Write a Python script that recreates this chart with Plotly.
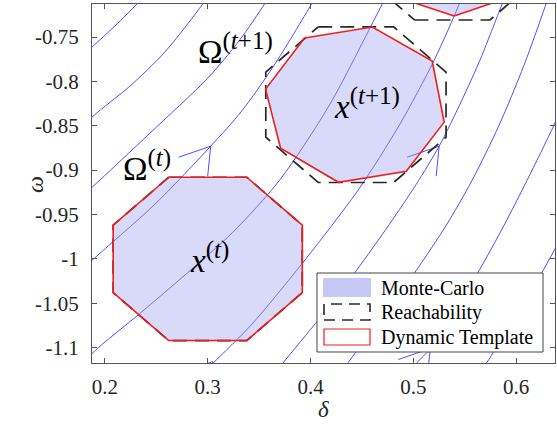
import plotly.graph_objects as go

# ---- streamlines of the swing dynamics (delta, omega) ----
stream_delta = [
    [0.1563, 0.1874, 0.2097, 0.2311, 0.2456],
    [0.1563, 0.1874, 0.2243, 0.2583, 0.2951, 0.3068],
    [0.1563, 0.1874, 0.2437, 0.3000, 0.3311, 0.3553, 0.3650],
    [0.1563, 0.1874, 0.2485, 0.3029, 0.3330, 0.3641, 0.4010, 0.4107],
    [0.1563, 0.1874, 0.2340, 0.2796, 0.3243, 0.3699, 0.4184, 0.4699, 0.4786],
    [0.2825, 0.3049, 0.3427, 0.3786, 0.4126, 0.4476, 0.4864, 0.5204, 0.5447, 0.5505],
    [0.3524, 0.3728, 0.4087, 0.4447, 0.4767, 0.5029, 0.5252, 0.5427, 0.5641, 0.5864, 0.5922],
    [0.4165, 0.4359, 0.4699, 0.5029, 0.5320, 0.5573, 0.5835, 0.6078, 0.6291, 0.6340],
    [0.4864, 0.5029, 0.5165, 0.5398, 0.5641, 0.5883, 0.6107, 0.6369, 0.6515],
    [0.5544, 0.5709, 0.5981, 0.6252, 0.6466],
]
stream_omega = [
    [-0.7940, -0.7613, -0.7376, -0.7128, -0.6947],
    [-0.8775, -0.8403, -0.8053, -0.7669, -0.7128, -0.6924],
    [-0.9509, -0.9193, -0.8584, -0.7963, -0.7534, -0.7128, -0.6947],
    [-1.0356, -1.0017, -0.9385, -0.8730, -0.8335, -0.7827, -0.7128, -0.6924],
    [-1.1484, -1.1067, -1.0615, -1.0164, -0.9701, -0.9114, -0.8267, -0.7128, -0.6947],
    [-1.1428, -1.1179, -1.0739, -1.0243, -0.9746, -0.9204, -0.8493, -0.7760, -0.7128, -0.6947],
    [-1.1484, -1.1179, -1.0672, -1.0130, -0.9611, -0.9159, -0.8730, -0.8324, -0.7782, -0.7128, -0.6947],
    [-1.1484, -1.1179, -1.0649, -1.0130, -0.9622, -0.9114, -0.8493, -0.7816, -0.7128, -0.6947],
    [-1.1428, -1.1179, -1.1010, -1.0581, -1.0130, -0.9622, -0.9114, -0.8493, -0.8098],
    [-1.1428, -1.1179, -1.0672, -1.0153, -0.9701],
]

# arrowhead tips placed on the streamlines
arrow_delta = [0.3029, 0.5252, 0.5165, 0.3049]
arrow_omega = [-0.8730, -0.8730, -1.1010, -1.1157]

# ---- sets at step t ----
mc_t_delta = [0.262, 0.338, 0.392, 0.392, 0.338, 0.262, 0.208, 0.208]
mc_t_omega = [-0.908, -0.908, -0.962, -1.038, -1.092, -1.092, -1.038, -0.962]
reach_t_delta = [0.262, 0.338, 0.392, 0.392, 0.338, 0.262, 0.208, 0.208]
reach_t_omega = [-0.908, -0.908, -0.962, -1.038, -1.092, -1.092, -1.038, -0.962]
dyn_t_delta = [0.262, 0.338, 0.392, 0.392, 0.338, 0.262, 0.208, 0.208]
dyn_t_omega = [-0.908, -0.908, -0.962, -1.038, -1.092, -1.092, -1.038, -0.962]

# ---- sets at step t+1 ----
reach_t1_delta = [0.4075, 0.4809, 0.5319, 0.5319, 0.4809, 0.4075, 0.3565, 0.3565]
reach_t1_omega = [-0.7385, -0.7385, -0.7895, -0.8629, -0.9139, -0.9139, -0.8629, -0.7895]
dyn_t1_delta = [0.3942, 0.4602, 0.5184, 0.5301, 0.4932, 0.4272, 0.3709, 0.3563]
dyn_t1_omega = [-0.7511, -0.7387, -0.7771, -0.8459, -0.9012, -0.9137, -0.8753, -0.8087]

# ---- sets at step t+2 ----
reach_t2_delta = [0.5012, 0.5746, 0.6256, 0.6256, 0.5746, 0.5012, 0.4502, 0.4502]
reach_t2_omega = [-0.7308, -0.7308, -0.6798, -0.6064, -0.5554, -0.5554, -0.6064, -0.6798]
dyn_t2_delta = [0.5398, 0.6029, 0.6417, 0.6272, 0.5544, 0.4864, 0.4573, 0.4718]
dyn_t2_omega = [-0.7263, -0.7015, -0.6108, -0.5292, -0.4836, -0.5170, -0.5962, -0.7003]

# axes
x_range = [0.1874, 0.6379]
y_range = [-1.1173, -0.7128]
x_ticks = [0.2, 0.3, 0.4, 0.5, 0.6]
x_ticktext = ["0.2", "0.3", "0.4", "0.5", "0.6"]
y_ticks = [-0.75, -0.8, -0.85, -0.9, -0.95, -1.0, -1.05, -1.1]
y_ticktext = ["-0.75", "-0.8", "-0.85", "-0.9", "-0.95", "-1", "-1.05", "-1.1"]

W, H = 557, 428
M = dict(l=92, r=2, t=4, b=65)
plot_w = W - M["l"] - M["r"]
plot_h = H - M["t"] - M["b"]
sx = plot_w / (x_range[1] - x_range[0])   # px per unit delta
sy = plot_h / (y_range[1] - y_range[0])   # px per unit omega

BLUE = "rgb(80,80,255)"
RED = "rgb(240,30,30)"
DASH = "rgb(40,40,40)"
MC_FILL = "rgba(160,160,240,0.40)"
SERIF = "Liberation Serif, Times New Roman, serif"

fig = go.Figure()

for xs, ys in zip(stream_delta, stream_omega):
    fig.add_trace(go.Scatter(x=xs, y=ys, mode="lines", line=dict(color=BLUE, width=1, shape="spline", smoothing=0.8),
                             hoverinfo="skip", showlegend=False))

# arrowheads: two barbs from each tip (barb offsets in screen pixels)
barbs = [(-32, 11), (-3, 30)]
for tx, ty in zip(arrow_delta, arrow_omega):
    bx, by = [], []
    for dx, dy in barbs:
        bx += [tx, tx + dx / sx, None]
        by += [ty, ty - dy / sy, None]
    fig.add_trace(go.Scatter(x=bx, y=by, mode="lines", line=dict(color=BLUE, width=1),
                             hoverinfo="skip", showlegend=False))


def closed(v):
    return list(v) + [v[0]]


# Monte-Carlo samples (filled hulls)
for dx_, dy_ in [(mc_t_delta, mc_t_omega), (dyn_t1_delta, dyn_t1_omega), (dyn_t2_delta, dyn_t2_omega)]:
    fig.add_trace(go.Scatter(x=closed(dx_), y=closed(dy_), mode="lines", fill="toself", fillcolor=MC_FILL,
                             line=dict(width=0), hoverinfo="skip", showlegend=False))

# reachability over-approximation
for dx_, dy_ in [(reach_t_delta, reach_t_omega), (reach_t1_delta, reach_t1_omega), (reach_t2_delta, reach_t2_omega)]:
    fig.add_trace(go.Scatter(x=closed(dx_), y=closed(dy_), mode="lines",
                             line=dict(color=DASH, width=1.7, dash="14px,8px"), hoverinfo="skip", showlegend=False))

# dynamic template
for dx_, dy_ in [(dyn_t_delta, dyn_t_omega), (dyn_t1_delta, dyn_t1_omega), (dyn_t2_delta, dyn_t2_omega)]:
    fig.add_trace(go.Scatter(x=closed(dx_), y=closed(dy_), mode="lines",
                             line=dict(color=RED, width=1.6), hoverinfo="skip", showlegend=False))

SUP = '<sup><span style="font-size:25px">{}</span></sup>'
label_font = dict(family=SERIF, size=33, color="black")
annotations = [
    dict(x=0.2408, y=-0.8945, text="Ω" + SUP.format("(<i>t</i>)")),
    dict(x=0.3272, y=-0.7624, text="Ω" + SUP.format("(<i>t</i>+1)")),
    dict(x=0.3019, y=-0.9983, text="<i>x</i>" + SUP.format("(<i>t</i>)")),
    dict(x=0.4553, y=-0.8245, text="<i>x</i>" + SUP.format("(<i>t</i>+1)")),
]
for a in annotations:
    a.update(xref="x", yref="y", showarrow=False, font=label_font)


def px(xp):
    return (xp - M["l"]) / plot_w


def py(yp):
    return (H - M["b"] - yp) / plot_h


# axis titles
annotations.append(dict(x=px(323), y=py(424), xref="paper", yref="paper", text="<i>δ</i>", showarrow=False,
                        font=dict(family=SERIF, size=23, color="#262626")))
annotations.append(dict(x=px(20), y=py(185), xref="paper", yref="paper", text="<i>ω</i>", showarrow=False,
                        textangle=-90, font=dict(family=SERIF, size=24, color="#262626")))

# legend box
legend_labels = ["Monte-Carlo", "Reachability", "Dynamic Template"]
shapes = [
    dict(type="rect", xref="paper", yref="paper", x0=px(317), x1=px(543), y0=py(352), y1=py(273),
         fillcolor="white", line=dict(color="#444", width=1)),
    dict(type="rect", xref="paper", yref="paper", x0=px(323), x1=px(371), y0=py(297), y1=py(278),
         fillcolor="rgb(200,200,246)", line=dict(width=0)),
    dict(type="rect", xref="paper", yref="paper", x0=px(324), x1=px(370), y0=py(320), y1=py(304),
         fillcolor="white", line=dict(color=DASH, width=1.6, dash="11px,7px")),
    dict(type="rect", xref="paper", yref="paper", x0=px(324), x1=px(370), y0=py(345), y1=py(329),
         fillcolor="white", line=dict(color=RED, width=1.2)),
]
for lab, yy in zip(legend_labels, [288, 312, 337]):
    annotations.append(dict(x=px(379), y=py(yy), xref="paper", yref="paper", text=lab, showarrow=False,
                            xanchor="left", yanchor="middle", font=dict(family=SERIF, size=20, color="black")))

axis_common = dict(showline=True, mirror="ticks", linecolor="#555", linewidth=1, ticks="inside", ticklen=5,
                   tickcolor="#555", showgrid=False, zeroline=False,
                   tickfont=dict(family=SERIF, size=21, color="#262626"))

fig.update_layout(
    width=W, height=H, margin=M, paper_bgcolor="white", plot_bgcolor="white",
    xaxis=dict(range=x_range, tickvals=x_ticks, ticktext=x_ticktext, ticklabelstandoff=5, **axis_common),
    yaxis=dict(range=y_range, tickvals=y_ticks, ticktext=y_ticktext, ticklabelstandoff=8, **axis_common),
    annotations=annotations, shapes=shapes, showlegend=False,
)

fig.write_html("out.html")
